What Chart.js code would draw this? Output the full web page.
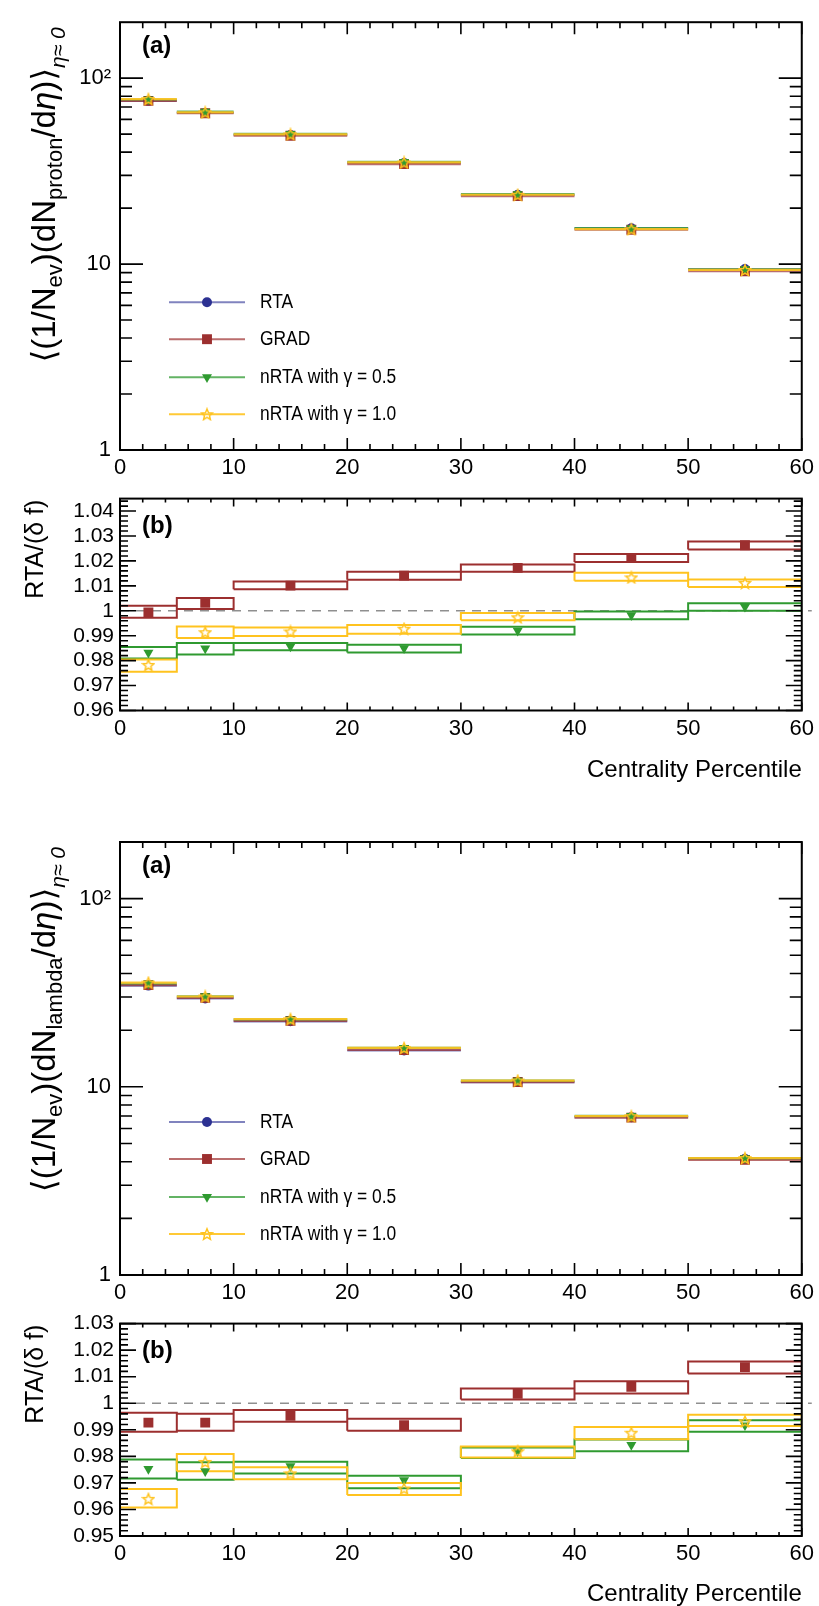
<!DOCTYPE html>
<html>
<head>
<meta charset="utf-8">
<title>Proton / lambda yields vs centrality</title>
<script src="https://cdn.jsdelivr.net/npm/chart.js@4.4.1/dist/chart.umd.min.js"></script>
<style>
  html, body { margin: 0; padding: 0; background: #fff; }
  #page { position: relative; width: 819px; height: 1606px; overflow: hidden; }
  .pad { position: absolute; left: 0; width: 819px; }
</style>
</head>
<body>
<div id="page">
  <div class="pad" style="top:0;height:480px"><canvas id="protonYield"></canvas></div>
  <div class="pad" style="top:480px;height:310px"><canvas id="protonRatio"></canvas></div>
  <div class="pad" style="top:790px;height:515px"><canvas id="lambdaYield"></canvas></div>
  <div class="pad" style="top:1305px;height:301px"><canvas id="lambdaRatio"></canvas></div>
</div>
<script>
// ============================================
//  Yields vs centrality, RTA / GRAD / nRTA
//  values
// ============================================

const FONT = "'Liberation Sans', Arial, 'DejaVu Sans', sans-serif";

// ---- bins ----
const binLo  = [0, 5, 10, 20, 30, 40, 50];
const binHi  = [5, 10, 20, 30, 40, 50, 60];
const binMid = [2.5, 7.5, 15, 25, 35, 45, 55];

const seriesNames = ['RTA', 'GRAD', 'nRTA with γ = 0.5', 'nRTA with γ = 1.0'];

// ---- ticks ----
const xTicks = [0, 10, 20, 30, 40, 50, 60];
const logTicks = [1, 10, 100];
const logTickLabels = ['1', '10', '10²'];
const protonRatioTicks = [0.96, 0.97, 0.98, 0.99, 1, 1.01, 1.02, 1.03, 1.04];
const protonRatioLabels = ['0.96', '0.97', '0.98', '0.99', '1', '1.01', '1.02', '1.03', '1.04'];
const lambdaRatioTicks = [0.95, 0.96, 0.97, 0.98, 0.99, 1, 1.01, 1.02, 1.03];
const lambdaRatioLabels = ['0.95', '0.96', '0.97', '0.98', '0.99', '1', '1.01', '1.02', '1.03'];

// ---- proton dN/deta ----
const protonRTA  = [75.5, 65.0, 49.5, 35.0, 23.6, 15.6, 9.40];
const protonGRAD = [75.5, 64.8, 49.0, 34.5, 23.2, 15.3, 9.15];
const protonG05  = [76.8, 66.0, 50.2, 35.5, 23.8, 15.6, 9.38];
const protonG10  = [77.2, 65.5, 49.9, 35.2, 23.6, 15.4, 9.30];

// ---- proton RTA/(delta f): marker, box low, box high ----
const protonRatioGRAD   = [0.9993, 1.0032, 1.0101, 1.0141, 1.0172, 1.0212, 1.0263];
const protonRatioGRADLo = [0.9972, 1.0007, 1.0086, 1.0124, 1.0157, 1.0196, 1.0246];
const protonRatioGRADHi = [1.0020, 1.0051, 1.0117, 1.0157, 1.0186, 1.0228, 1.0278];
const protonRatioG05    = [0.9832, 0.9849, 0.9857, 0.9850, 0.9920, 0.9982, 1.0016];
const protonRatioG05Lo  = [0.9809, 0.9825, 0.9842, 0.9833, 0.9905, 0.9966, 1.0000];
const protonRatioG05Hi  = [0.9855, 0.9871, 0.9871, 0.9864, 0.9936, 0.9997, 1.0030];
const protonRatioG10    = [0.9783, 0.9914, 0.9917, 0.9928, 0.9974, 1.0134, 1.0112];
const protonRatioG10Lo  = [0.9755, 0.9891, 0.9899, 0.9908, 0.9962, 1.0120, 1.0095];
const protonRatioG10Hi  = [0.9805, 0.9937, 0.9933, 0.9943, 0.9991, 1.0153, 1.0125];

// ---- lambda dN/deta ----
const lambdaRTA  = [34.5, 29.5, 22.3, 15.6, 10.6, 6.90, 4.15];
const lambdaGRAD = [34.7, 29.7, 22.4, 15.7, 10.6, 6.86, 4.09];
const lambdaG05  = [35.4, 30.3, 22.8, 16.1, 10.8, 7.01, 4.18];
const lambdaG10  = [35.8, 30.2, 22.9, 16.1, 10.8, 6.98, 4.18];

// ---- lambda RTA/(delta f) ----
const lambdaRatioGRAD   = [0.9927, 0.9927, 0.9953, 0.9917, 1.0036, 1.0062, 1.0136];
const lambdaRatioGRADLo = [0.9893, 0.9896, 0.9930, 0.9896, 1.0014, 1.0037, 1.0112];
const lambdaRatioGRADHi = [0.9964, 0.9960, 0.9975, 0.9942, 1.0056, 1.0083, 1.0157];
const lambdaRatioG05    = [0.9753, 0.9744, 0.9763, 0.9710, 0.9819, 0.9843, 0.9917];
const lambdaRatioG05Lo  = [0.9717, 0.9712, 0.9735, 0.9680, 0.9794, 0.9819, 0.9893];
const lambdaRatioG05Hi  = [0.9788, 0.9778, 0.9780, 0.9727, 0.9833, 0.9863, 0.9936];
const lambdaRatioG10    = [0.9640, 0.9779, 0.9736, 0.9679, 0.9819, 0.9889, 0.9932];
const lambdaRatioG10Lo  = [0.9607, 0.9744, 0.9714, 0.9654, 0.9796, 0.9864, 0.9914];
const lambdaRatioG10Hi  = [0.9677, 0.9809, 0.9759, 0.9700, 0.9837, 0.9911, 0.9957];

// ---- colours ----
const BLUE   = '#2c3192';
const RED    = '#9c2f2f';
const GREEN  = '#2f9a30';
const YELLOW = '#ffc31f';
const BLUE_LINE   = 'rgba(44, 49, 146, 0.6)';
const RED_LINE    = 'rgba(156, 47, 47, 0.7)';
const GREEN_LINE  = 'rgba(47, 154, 48, 0.75)';
const YELLOW_LINE = 'rgba(255, 195, 31, 0.9)';

// open five-pointed star marker
const starImg = (function () {
    const s = 14, c = document.createElement('canvas');
    c.width = s; c.height = s;
    const g = c.getContext('2d');
    g.strokeStyle = YELLOW;
    g.lineWidth = 1.5;
    g.beginPath();
    for (let i = 0; i < 10; i++) {
        const a = -Math.PI / 2 + i * Math.PI / 5;
        const r = i % 2 ? 2.6 : 5.8;
        g.lineTo(s / 2 + r * Math.cos(a), s / 2 + 0.6 + r * Math.sin(a));
    }
    g.closePath();
    g.stroke();
    return c;
})();

const markers = [
    { style: 'circle',   radius: 5,   rotation: 0,   color: BLUE,   line: BLUE_LINE },
    { style: 'rect',     radius: 7,   rotation: 0,   color: RED,    line: RED_LINE },
    { style: 'triangle', radius: 5.8, rotation: 180, color: GREEN,  line: GREEN_LINE },
    { style: starImg,    radius: 6,   rotation: 0,   color: YELLOW, line: YELLOW_LINE }
];

// minor tick positions
const xMinor = [];
for (let v = 2; v < 60; v += 2) if (v % 10) xMinor.push(v);
const logMinor = [];
[1, 10].forEach(d => { for (let k = 2; k <= 9; k++) logMinor.push(k * d); });
function ratioMinor(min, max) {
    const out = [];
    for (let i = Math.round(min * 500); i <= Math.round(max * 500); i++) if (i % 5) out.push(i / 500);
    return out;
}

// ---- helpers building line data from the arrays ----
function stepData(vals) {
    const out = [];
    vals.forEach((v, i) => {
        out.push({ x: binLo[i], y: v }, { x: binHi[i], y: v }, { x: binHi[i], y: null });
    });
    return out;
}
function boxData(lo, hi) {
    const out = [];
    lo.forEach((l, i) => {
        out.push({ x: binLo[i], y: l }, { x: binHi[i], y: l }, { x: binHi[i], y: hi[i] },
                 { x: binLo[i], y: hi[i] }, { x: binLo[i], y: l }, { x: binLo[i], y: null });
    });
    return out;
}
function markerData(vals) {
    return vals.map((v, i) => ({ x: binMid[i], y: v }));
}
function markerSet(vals, m, order) {
    return {
        data: markerData(vals),
        showLine: false,
        pointStyle: m.style,
        pointRadius: m.radius,
        pointRotation: m.rotation,
        pointBackgroundColor: m.color,
        pointBorderColor: m.color,
        pointBorderWidth: 0,
        order: order
    };
}

// rotated axis title with sub-scripts
function drawRotatedTitle(ctx, parts, baseX, endY) {
    ctx.save();
    ctx.translate(baseX, endY);
    ctx.rotate(-Math.PI / 2);
    ctx.fillStyle = '#000';
    ctx.textBaseline = 'alphabetic';
    ctx.textAlign = 'left';
    let total = 0;
    parts.forEach(p => { ctx.font = p.font; p.w = ctx.measureText(p.t).width; total += p.w; });
    let x = -total;
    parts.forEach(p => { ctx.font = p.font; ctx.fillText(p.t, x, p.dy || 0); x += p.w; });
    ctx.restore();
}

function yieldTitle(species) {
    const main = `33px ${FONT}`, sub = `22px ${FONT}`, it = `italic 33px ${FONT}`;
    return [
        { t: '⟨(1/N', font: main },
        { t: 'ev', font: sub, dy: 7 },
        { t: ')(dN', font: main },
        { t: species, font: sub, dy: 7 },
        { t: '/d', font: main },
        { t: 'η', font: it },
        { t: ')⟩', font: main },
        { t: 'η≈ 0', font: `italic 21px ${FONT}`, dy: 10 }
    ];
}
const ratioTitle = [{ t: 'RTA/(δ f)', font: `25px ${FONT}` }];

// frame, inward ticks on all sides, labels
function framePlugin(o) {
    return {
        id: 'frame',
        beforeDatasetsDraw(chart) {
            if (!o.unity) return;
            const { ctx, chartArea: a, scales: { y } } = chart;
            const py = y.getPixelForValue(1);
            ctx.save();
            ctx.strokeStyle = '#8f8f8f';
            ctx.lineWidth = 1.5;
            ctx.setLineDash([9, 7]);
            ctx.beginPath();
            ctx.moveTo(a.left, py);
            ctx.lineTo(a.right + 10, py);
            ctx.stroke();
            ctx.restore();
        },
        afterDraw(chart) {
            const { ctx, chartArea: a, scales: { x, y } } = chart;
            ctx.save();
            ctx.strokeStyle = '#000';
            ctx.lineWidth = 1.6;
            ctx.beginPath();
            const vt = (vals, len) => vals.forEach(v => {
                const px = x.getPixelForValue(v);
                ctx.moveTo(px, a.bottom); ctx.lineTo(px, a.bottom - len);
                ctx.moveTo(px, a.top); ctx.lineTo(px, a.top + len);
            });
            const ht = (vals, len) => vals.forEach(v => {
                const py = y.getPixelForValue(v);
                if (py < a.top - 0.5 || py > a.bottom + 0.5) return;
                ctx.moveTo(a.left, py); ctx.lineTo(a.left + len, py);
                ctx.moveTo(a.right, py); ctx.lineTo(a.right - len, py);
            });
            vt(xTicks, o.xMaj); vt(xMinor, o.xMin);
            ht(o.yTicks, o.yMaj); ht(o.yMinor, o.yMin);
            ctx.stroke();
            ctx.lineWidth = 2;
            ctx.strokeRect(a.left, a.top, a.right - a.left, a.bottom - a.top);

            ctx.fillStyle = '#000';
            ctx.font = `bold 24px ${FONT}`;
            ctx.textBaseline = 'middle';
            ctx.fillText(o.tag, 142, a.top + o.tagDy);

            if (o.legend) {
                const rows = [280, 317, 355, 392];
                markers.forEach((m, i) => {
                    const ly = a.top + rows[i];
                    ctx.strokeStyle = m.line;
                    ctx.lineWidth = 2;
                    ctx.beginPath(); ctx.moveTo(169, ly); ctx.lineTo(245, ly); ctx.stroke();
                    ctx.fillStyle = m.color;
                    Chart.helpers.drawPoint(ctx, { pointStyle: m.style, radius: m.radius, rotation: m.rotation, borderWidth: 0 }, 207, ly);
                    // legend text is set slightly condensed, as in the figure
                    ctx.save();
                    ctx.translate(260, ly);
                    ctx.scale(0.87, 1);
                    ctx.fillStyle = '#000';
                    ctx.font = `20px ${FONT}`;
                    ctx.textBaseline = 'middle';
                    ctx.fillText(seriesNames[i], 0, 0);
                    ctx.restore();
                });
            }
            drawRotatedTitle(ctx, o.title, o.titleX, a.top + o.titleDy);
            ctx.restore();
        }
    };
}

function xScale(h, title) {
    return {
        type: 'linear', min: 0, max: 60,
        afterBuildTicks: s => { s.ticks = xTicks.map(v => ({ value: v })); },
        afterFit: s => { s.height = h; },
        grid: { display: false, drawTicks: false },
        border: { display: false },
        ticks: { padding: 5, maxRotation: 0, autoSkip: false, color: '#000', font: { family: FONT, size: 22 } },
        title: title
    };
}

function yieldChart(id, series, species, padTop) {
    const datasets = [];
    series.forEach((vals, i) => {
        datasets.push({ data: stepData(vals), borderColor: markers[i].line, borderWidth: 2.2,
                        pointRadius: 0, spanGaps: false, order: 13 - i });
    });
    series.forEach((vals, i) => datasets.push(markerSet(vals, markers[i], 3 - i)));
    new Chart(document.getElementById(id), {
        type: 'line',
        data: { datasets },
        options: {
            responsive: true, maintainAspectRatio: false, animation: false, events: [],
            layout: { padding: { top: padTop, left: 0, right: 14, bottom: 0 } },
            plugins: { legend: { display: false }, tooltip: { enabled: false } },
            scales: {
                x: xScale(30, { display: false }),
                y: {
                    type: 'logarithmic', min: 1, max: 200,
                    afterBuildTicks: s => { s.ticks = logTicks.map(v => ({ value: v })); },
                    afterFit: s => { s.width = 120; },
                    grid: { display: false, drawTicks: false },
                    border: { display: false },
                    ticks: {
                        padding: 9, autoSkip: false, color: '#000', font: { family: FONT, size: 22 },
                        callback: v => logTickLabels[logTicks.indexOf(v)]
                    }
                }
            }
        },
        plugins: [framePlugin({
            xMaj: 12, xMin: 6, yMaj: 23, yMin: 12,
            yTicks: logTicks, yMinor: logMinor,
            tag: '(a)', tagDy: 24, legend: true,
            title: yieldTitle(species), titleX: 55, titleDy: 5
        })]
    });
}

function ratioChart(id, vals, lows, highs, ticks, labels, min, max, padTop, xHeight, titlePad) {
    const cols = [RED, GREEN, YELLOW];
    const datasets = [];
    vals.forEach((v, i) => datasets.push(markerSet(v, markers[i + 1], 2 - i)));
    lows.forEach((lo, i) => {
        datasets.push({ data: boxData(lo, highs[i]), borderColor: cols[i], borderWidth: 2,
                        borderJoinStyle: 'miter', pointRadius: 0, spanGaps: false, order: 12 - i });
    });
    new Chart(document.getElementById(id), {
        type: 'line',
        data: { datasets },
        options: {
            responsive: true, maintainAspectRatio: false, animation: false, events: [],
            layout: { padding: { top: padTop, left: 0, right: 14, bottom: 0 } },
            plugins: { legend: { display: false }, tooltip: { enabled: false } },
            scales: {
                x: xScale(xHeight, {
                    display: true, text: 'Centrality Percentile', align: 'end', color: '#000',
                    font: { family: FONT, size: 24, lineHeight: 1 }, padding: { top: 0, bottom: titlePad }
                }),
                y: {
                    type: 'linear', min: min, max: max,
                    afterBuildTicks: s => { s.ticks = ticks.map(v => ({ value: v })); },
                    afterFit: s => { s.width = 120; },
                    grid: { display: false, drawTicks: false },
                    border: { display: false },
                    ticks: {
                        padding: 6, autoSkip: false, color: '#000', font: { family: FONT, size: 21 },
                        callback: v => labels[ticks.indexOf(v)]
                    }
                }
            }
        },
        plugins: [framePlugin({
            xMaj: 8, xMin: 4, yMaj: 16, yMin: 8,
            yTicks: ticks, yMinor: ratioMinor(min, max),
            tag: '(b)', tagDy: 28, legend: false, unity: true,
            title: ratioTitle, titleX: 43, titleDy: 1
        })]
    });
}

yieldChart('protonYield', [protonRTA, protonGRAD, protonG05, protonG10], 'proton', 15.5);
ratioChart('protonRatio',
    [protonRatioGRAD, protonRatioG05, protonRatioG10],
    [protonRatioGRADLo, protonRatioG05Lo, protonRatioG10Lo],
    [protonRatioGRADHi, protonRatioG05Hi, protonRatioG10Hi],
    protonRatioTicks, protonRatioLabels, 0.96, 1.045, 15, 79.5, 8);

yieldChart('lambdaYield', [lambdaRTA, lambdaGRAD, lambdaG05, lambdaG10], 'lambda', 52);
ratioChart('lambdaRatio',
    [lambdaRatioGRAD, lambdaRatioG05, lambdaRatioG10],
    [lambdaRatioGRADLo, lambdaRatioG05Lo, lambdaRatioG10Lo],
    [lambdaRatioGRADHi, lambdaRatioG05Hi, lambdaRatioG10Hi],
    lambdaRatioTicks, lambdaRatioLabels, 0.95, 1.03, 16, 70, 0);
</script>
</body>
</html>
